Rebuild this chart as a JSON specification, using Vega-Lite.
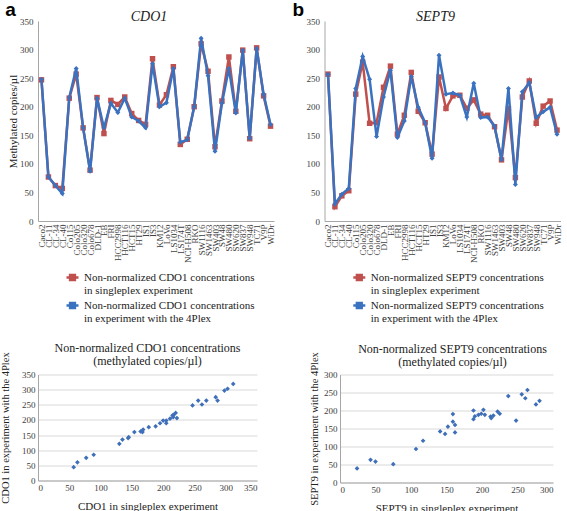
{
  "$schema": "https://vega.github.io/schema/vega-lite/v6.json",
  "background": "white",
  "padding": {"left": 0, "top": 0, "right": 0, "bottom": 0},
  "config": {
    "view": {"stroke": null},
    "axis": {"ticks": false, "domainColor": "#a6a6a6", "labelFont": "Liberation Serif", "labelFontSize": 9, "labelColor": "#404040", "titleFont": "Liberation Serif", "titleFontSize": 11, "titleFontWeight": "normal", "titleColor": "#222222", "gridColor": "#d9d9d9"},
    "title": {"font": "Liberation Serif", "fontWeight": "normal", "color": "#222222"}
  },
  "datasets": {
    "cdo1": [
      {"line":"Caco2","series":"singleplex","v":247},{"line":"CL-11","series":"singleplex","v":77},{"line":"CL-34","series":"singleplex","v":62},{"line":"CL-40","series":"singleplex","v":57},{"line":"Co115","series":"singleplex","v":215},{"line":"Colo205","series":"singleplex","v":257},{"line":"Colo320","series":"singleplex","v":163},{"line":"Colo678","series":"singleplex","v":89},{"line":"DLD-1","series":"singleplex","v":216},{"line":"EB","series":"singleplex","v":153},{"line":"FRI","series":"singleplex","v":211},{"line":"HCC2998","series":"singleplex","v":204},{"line":"HCT116","series":"singleplex","v":217},{"line":"HCT15","series":"singleplex","v":188},{"line":"HT29","series":"singleplex","v":176},{"line":"IS1","series":"singleplex","v":169},{"line":"IS3","series":"singleplex","v":284},{"line":"KM12","series":"singleplex","v":203},{"line":"LoVo","series":"singleplex","v":221},{"line":"LS1034","series":"singleplex","v":270},{"line":"LS174T","series":"singleplex","v":134},{"line":"NCI-H508","series":"singleplex","v":143},{"line":"RKO","series":"singleplex","v":200},{"line":"SW1116","series":"singleplex","v":310},{"line":"SW1463","series":"singleplex","v":262},{"line":"SW403","series":"singleplex","v":130},{"line":"SW48","series":"singleplex","v":210},{"line":"SW480","series":"singleplex","v":287},{"line":"SW620","series":"singleplex","v":192},{"line":"SW837","series":"singleplex","v":299},{"line":"SW948","series":"singleplex","v":144},{"line":"TC71","series":"singleplex","v":303},{"line":"V9P","series":"singleplex","v":219},{"line":"WiDr","series":"singleplex","v":166},
      {"line":"Caco2","series":"4Plex","v":248},{"line":"CL-11","series":"4Plex","v":77},{"line":"CL-34","series":"4Plex","v":62},{"line":"CL-40","series":"4Plex","v":48},{"line":"Co115","series":"4Plex","v":216},{"line":"Colo205","series":"4Plex","v":267},{"line":"Colo320","series":"4Plex","v":163},{"line":"Colo678","series":"4Plex","v":87},{"line":"DLD-1","series":"4Plex","v":215},{"line":"EB","series":"4Plex","v":163},{"line":"FRI","series":"4Plex","v":206},{"line":"HCC2998","series":"4Plex","v":190},{"line":"HCT116","series":"4Plex","v":215},{"line":"HCT15","series":"4Plex","v":182},{"line":"HT29","series":"4Plex","v":175},{"line":"IS1","series":"4Plex","v":163},{"line":"IS3","series":"4Plex","v":275},{"line":"KM12","series":"4Plex","v":200},{"line":"LoVo","series":"4Plex","v":207},{"line":"LS1034","series":"4Plex","v":267},{"line":"LS174T","series":"4Plex","v":138},{"line":"NCI-H508","series":"4Plex","v":142},{"line":"RKO","series":"4Plex","v":200},{"line":"SW1116","series":"4Plex","v":320},{"line":"SW1463","series":"4Plex","v":254},{"line":"SW403","series":"4Plex","v":122},{"line":"SW48","series":"4Plex","v":206},{"line":"SW480","series":"4Plex","v":267},{"line":"SW620","series":"4Plex","v":189},{"line":"SW837","series":"4Plex","v":299},{"line":"SW948","series":"4Plex","v":145},{"line":"TC71","series":"4Plex","v":302},{"line":"V9P","series":"4Plex","v":222},{"line":"WiDr","series":"4Plex","v":169}
    ],
    "sept9": [
      {"line":"Caco2","series":"singleplex","v":257},{"line":"CL-11","series":"singleplex","v":25},{"line":"CL-34","series":"singleplex","v":44},{"line":"CL-40","series":"singleplex","v":53},{"line":"Co115","series":"singleplex","v":222},{"line":"Colo205","series":"singleplex","v":278},{"line":"Colo320","series":"singleplex","v":171},{"line":"Colo678","series":"singleplex","v":172},{"line":"DLD-1","series":"singleplex","v":234},{"line":"EB","series":"singleplex","v":271},{"line":"FRI","series":"singleplex","v":152},{"line":"HCC2998","series":"singleplex","v":185},{"line":"HCT116","series":"singleplex","v":260},{"line":"HCT15","series":"singleplex","v":192},{"line":"HT29","series":"singleplex","v":172},{"line":"IS1","series":"singleplex","v":117},{"line":"IS3","series":"singleplex","v":252},{"line":"KM12","series":"singleplex","v":197},{"line":"LoVo","series":"singleplex","v":219},{"line":"LS1034","series":"singleplex","v":220},{"line":"LS174T","series":"singleplex","v":197},{"line":"NCI-H508","series":"singleplex","v":212},{"line":"RKO","series":"singleplex","v":187},{"line":"SW1116","series":"singleplex","v":185},{"line":"SW1463","series":"singleplex","v":165},{"line":"SW403","series":"singleplex","v":107},{"line":"SW48","series":"singleplex","v":197},{"line":"SW480","series":"singleplex","v":76},{"line":"SW620","series":"singleplex","v":217},{"line":"SW837","series":"singleplex","v":245},{"line":"SW948","series":"singleplex","v":171},{"line":"TC71","series":"singleplex","v":201},{"line":"V9P","series":"singleplex","v":210},{"line":"WiDr","series":"singleplex","v":159},
      {"line":"Caco2","series":"4Plex","v":257},{"line":"CL-11","series":"4Plex","v":30},{"line":"CL-34","series":"4Plex","v":47},{"line":"CL-40","series":"4Plex","v":57},{"line":"Co115","series":"4Plex","v":232},{"line":"Colo205","series":"4Plex","v":288},{"line":"Colo320","series":"4Plex","v":248},{"line":"Colo678","series":"4Plex","v":148},{"line":"DLD-1","series":"4Plex","v":217},{"line":"EB","series":"4Plex","v":264},{"line":"FRI","series":"4Plex","v":146},{"line":"HCC2998","series":"4Plex","v":175},{"line":"HCT116","series":"4Plex","v":253},{"line":"HCT15","series":"4Plex","v":199},{"line":"HT29","series":"4Plex","v":172},{"line":"IS1","series":"4Plex","v":110},{"line":"IS3","series":"4Plex","v":290},{"line":"KM12","series":"4Plex","v":222},{"line":"LoVo","series":"4Plex","v":224},{"line":"LS1034","series":"4Plex","v":220},{"line":"LS174T","series":"4Plex","v":182},{"line":"NCI-H508","series":"4Plex","v":241},{"line":"RKO","series":"4Plex","v":181},{"line":"SW1116","series":"4Plex","v":182},{"line":"SW1463","series":"4Plex","v":166},{"line":"SW403","series":"4Plex","v":107},{"line":"SW48","series":"4Plex","v":232},{"line":"SW480","series":"4Plex","v":64},{"line":"SW620","series":"4Plex","v":226},{"line":"SW837","series":"4Plex","v":242},{"line":"SW948","series":"4Plex","v":181},{"line":"TC71","series":"4Plex","v":191},{"line":"V9P","series":"4Plex","v":199},{"line":"WiDr","series":"4Plex","v":152}
    ],
    "cdo1s": [
      {"single":57,"plex":44},{"single":63,"plex":60},{"single":77,"plex":75},{"single":89,"plex":85},{"single":130,"plex":121},{"single":135,"plex":135},{"single":144,"plex":140},{"single":145,"plex":143},{"single":154,"plex":160},{"single":164,"plex":162},{"single":168,"plex":168},{"single":167,"plex":160},{"single":177,"plex":176},{"single":188,"plex":179},{"single":195,"plex":189},{"single":200,"plex":198},{"single":205,"plex":189},{"single":205,"plex":198},{"single":211,"plex":204},{"single":215,"plex":215},{"single":217,"plex":217},{"single":220,"plex":223},{"single":216,"plex":209},{"single":222,"plex":206},{"single":247,"plex":248},{"single":256,"plex":264},{"single":262,"plex":251},{"single":269,"plex":264},{"single":284,"plex":275},{"single":287,"plex":264},{"single":298,"plex":297},{"single":303,"plex":303},{"single":312,"plex":319}
    ],
    "sept9s": [
      {"single":24,"plex":39},{"single":43,"plex":63},{"single":50,"plex":58},{"single":75,"plex":51},{"single":107,"plex":93},{"single":117,"plex":116},{"single":141,"plex":142},{"single":148,"plex":135},{"single":152,"plex":155},{"single":159,"plex":190},{"single":159,"plex":169},{"single":162,"plex":160},{"single":162,"plex":139},{"single":188,"plex":200},{"single":188,"plex":176},{"single":190,"plex":184},{"single":195,"plex":188},{"single":199,"plex":191},{"single":202,"plex":202},{"single":204,"plex":188},{"single":212,"plex":183},{"single":213,"plex":179},{"single":216,"plex":186},{"single":222,"plex":197},{"single":225,"plex":191},{"single":237,"plex":240},{"single":248,"plex":172},{"single":256,"plex":245},{"single":261,"plex":234},{"single":264,"plex":257},{"single":276,"plex":217},{"single":281,"plex":227}
    ]
  },
  "vconcat": [
    {
      "hconcat": [
        {
          "width": 236, "height": 200,
          "title": {"text": "CDO1", "fontStyle": "italic", "fontSize": 14, "offset": -24, "dx": -7},
          "encoding": {
            "x": {"field": "line", "type": "nominal", "scale": {"type": "point", "padding": 0.5, "domain": ["Caco2","CL-11","CL-34","CL-40","Co115","Colo205","Colo320","Colo678","DLD-1","EB","FRI","HCC2998","HCT116","HCT15","HT29","IS1","IS3","KM12","LoVo","LS1034","LS174T","NCI-H508","RKO","SW1116","SW1463","SW403","SW48","SW480","SW620","SW837","SW948","TC71","V9P","WiDr"]},
              "axis": {"labelAngle": -90, "labelPadding": 3, "title": "a", "titleFont": "Liberation Sans", "titleFontWeight": "bold", "titleFontSize": 19, "titleColor": "#000000", "titleAngle": 0, "titleAlign": "center", "titleBaseline": "top", "titleX": -28, "titleY": -221}},
            "y": {"field": "v", "type": "quantitative", "scale": {"domain": [0, 350], "nice": false}, "axis": {"values": [0,50,100,150,200,250,300,350], "grid": false, "title": "Methylated copies/µl", "labelPadding": 5, "titlePadding": 1}},
            "color": {"field": "series", "type": "nominal", "scale": {"domain": ["singleplex", "4Plex"], "range": ["#c0504d", "#3a72c0"]},
              "legend": {"orient": "none", "legendX": 27, "legendY": 249, "title": null, "symbolType": "M-1,0H1M-0.4,-0.4H0.4V0.4H-0.4Z", "symbolSize": 144, "symbolStrokeWidth": 2.5, "labelFont": "Liberation Serif", "labelFontSize": 11, "labelColor": "#222222", "labelLimit": 300, "labelBaseline": "top", "rowPadding": 2, "labelExpr": "datum.label == 'singleplex' ? ['Non-normalized CDO1 concentrations', 'in singleplex experiment'] : ['Non-normalized CDO1 concentrations', 'in experiment with the 4Plex']", "encode": {"labels": {"update": {"dy": {"value": -6}}}}}}
          },
          "layer": [
            {"data": {"name": "cdo1"}, "transform": [{"filter": "datum.series == 'singleplex'"}], "mark": {"type": "line", "strokeWidth": 2.5}},
            {"data": {"name": "cdo1"}, "transform": [{"filter": "datum.series == 'singleplex'"}], "mark": {"type": "point", "shape": "square", "filled": true, "opacity": 1, "size": 30}},
            {"data": {"name": "cdo1"}, "transform": [{"filter": "datum.series == '4Plex'"}], "mark": {"type": "line", "strokeWidth": 2.5}},
            {"data": {"name": "cdo1"}, "transform": [{"filter": "datum.series == '4Plex'"}], "mark": {"type": "point", "shape": "diamond", "filled": true, "opacity": 1, "size": 25}}
          ]
        },
        {
          "width": 236, "height": 200,
          "title": {"text": "SEPT9", "fontStyle": "italic", "fontSize": 14, "offset": -24, "dx": -7},
          "encoding": {
            "x": {"field": "line", "type": "nominal", "scale": {"type": "point", "padding": 0.5, "domain": ["Caco2","CL-11","CL-34","CL-40","Co115","Colo205","Colo320","Colo678","DLD-1","EB","FRI","HCC2998","HCT116","HCT15","HT29","IS1","IS3","KM12","LoVo","LS1034","LS174T","NCI-H508","RKO","SW1116","SW1463","SW403","SW48","SW480","SW620","SW837","SW948","TC71","V9P","WiDr"]},
              "axis": {"labelAngle": -90, "labelPadding": 3, "title": "b", "titleFont": "Liberation Sans", "titleFontWeight": "bold", "titleFontSize": 19, "titleColor": "#000000", "titleAngle": 0, "titleAlign": "center", "titleBaseline": "top", "titleX": -26.7, "titleY": -221}},
            "y": {"field": "v", "type": "quantitative", "scale": {"domain": [0, 350], "nice": false}, "axis": {"values": [0,50,100,150,200,250,300,350], "grid": false, "title": null, "labelPadding": 5}},
            "color": {"field": "series", "type": "nominal", "scale": {"domain": ["singleplex", "4Plex"], "range": ["#c0504d", "#3a72c0"]},
              "legend": {"orient": "none", "legendX": 27.3, "legendY": 249, "title": null, "symbolType": "M-1,0H1M-0.4,-0.4H0.4V0.4H-0.4Z", "symbolSize": 144, "symbolStrokeWidth": 2.5, "labelFont": "Liberation Serif", "labelFontSize": 11, "labelColor": "#222222", "labelLimit": 300, "labelBaseline": "top", "rowPadding": 2, "labelExpr": "datum.label == 'singleplex' ? ['Non-normalized SEPT9 concentrations', 'in singleplex experiment'] : ['Non-normalized SEPT9 concentrations', 'in experiment with the 4Plex']", "encode": {"labels": {"update": {"dy": {"value": -6}}}}}}
          },
          "layer": [
            {"data": {"name": "sept9"}, "transform": [{"filter": "datum.series == 'singleplex'"}], "mark": {"type": "line", "strokeWidth": 2.5}},
            {"data": {"name": "sept9"}, "transform": [{"filter": "datum.series == 'singleplex'"}], "mark": {"type": "point", "shape": "square", "filled": true, "opacity": 1, "size": 30}},
            {"data": {"name": "sept9"}, "transform": [{"filter": "datum.series == '4Plex'"}], "mark": {"type": "line", "strokeWidth": 2.5}},
            {"data": {"name": "sept9"}, "transform": [{"filter": "datum.series == '4Plex'"}], "mark": {"type": "point", "shape": "diamond", "filled": true, "opacity": 1, "size": 25}}
          ]
        }
      ],
      "spacing": 15.5,
      "resolve": {"scale": {"color": "independent", "x": "independent", "y": "independent"}, "legend": {"color": "independent"}}
    },
    {
      "hconcat": [
        {
          "width": 219, "height": 106,
          "title": {"text": ["Non-normalized CDO1 concentrations", "(methylated copies/µl)"], "fontSize": 12, "offset": -16, "lineHeight": 13},
          "data": {"name": "cdo1s"},
          "mark": {"type": "point", "shape": "diamond", "filled": true, "opacity": 1, "size": 22, "color": "#3e6fb8"},
          "encoding": {
            "x": {"field": "single", "type": "quantitative", "scale": {"domain": [0, 350], "nice": false}, "axis": {"values": [0,50,100,150,200,250,300,350], "grid": false, "title": "CDO1 in singleplex experiment", "labelPadding": 3, "titlePadding": 8}},
            "y": {"field": "plex", "type": "quantitative", "scale": {"domain": [0, 350], "nice": false}, "axis": {"values": [0,50,100,150,200,250,300,350], "grid": true, "title": "CDO1 in experiment with the 4Plex", "titleFontSize": 10.5, "labelPadding": 3, "titlePadding": 11}}
          }
        },
        {
          "width": 213, "height": 108,
          "title": {"text": ["Non-normalized SEPT9 concentrations", "(methylated copies/µl)"], "fontSize": 12, "offset": -17, "lineHeight": 13, "dx": 6},
          "data": {"name": "sept9s"},
          "mark": {"type": "point", "shape": "diamond", "filled": true, "opacity": 1, "size": 22, "color": "#3e6fb8"},
          "encoding": {
            "x": {"field": "single", "type": "quantitative", "scale": {"domain": [0, 300], "nice": false}, "axis": {"values": [0,50,100,150,200,250,300], "grid": false, "title": "SEPT9 in singleplex experiment", "labelPadding": 3, "titlePadding": 8}},
            "y": {"field": "plex", "type": "quantitative", "scale": {"domain": [0, 300], "nice": false}, "axis": {"values": [0,50,100,150,200,250,300], "grid": true, "title": "SEPT9 in experiment with the 4Plex", "titleFontSize": 10.5, "labelPadding": 3, "titlePadding": 4.5}}
          }
        }
      ],
      "spacing": 51,
      "resolve": {"scale": {"x": "independent", "y": "independent"}}
    }
  ],
  "spacing": 17.5,
  "align": "none",
  "resolve": {"scale": {"color": "independent", "x": "independent", "y": "independent"}, "legend": {"color": "independent"}}
}
